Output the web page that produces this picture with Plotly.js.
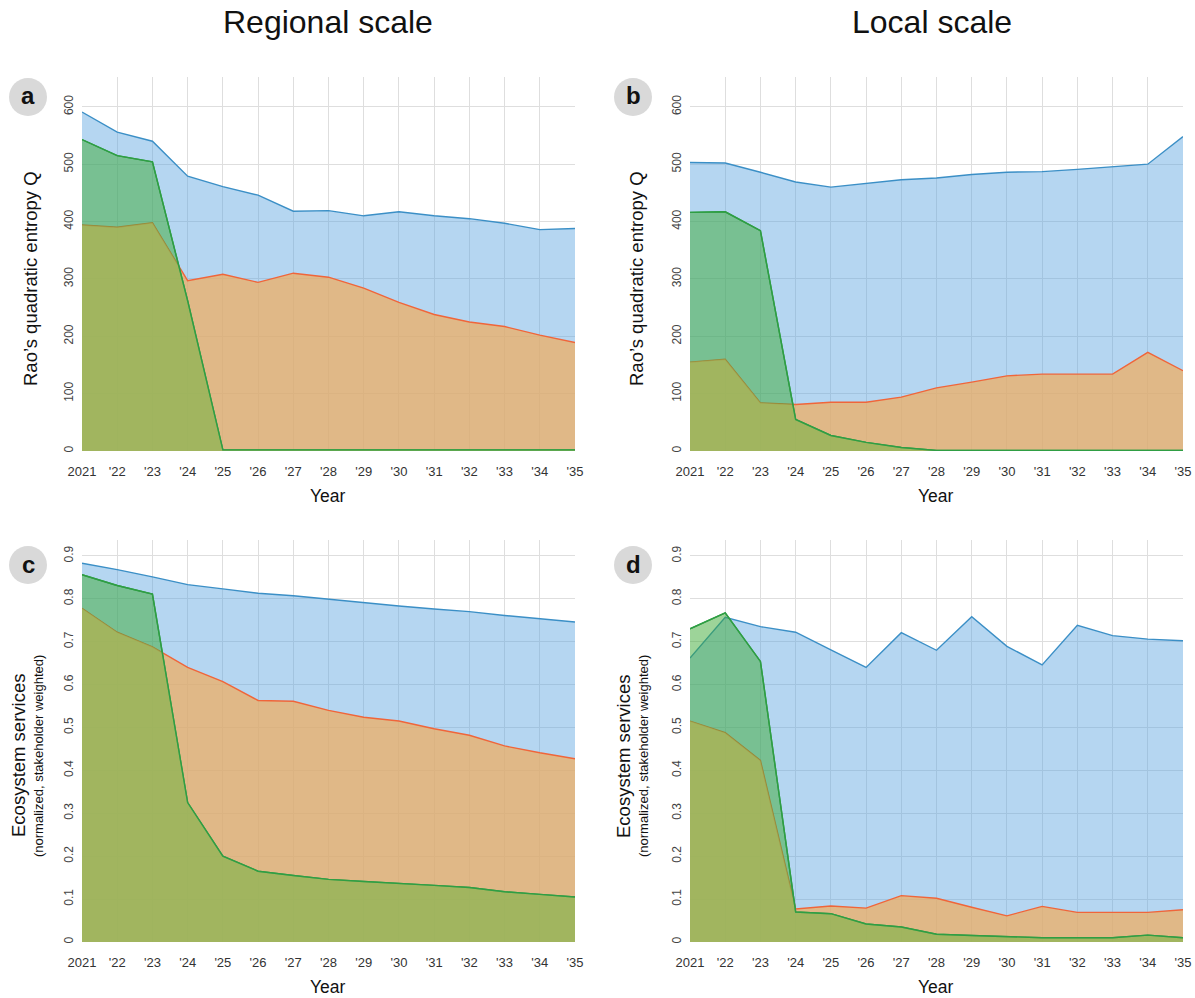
<!DOCTYPE html>
<html>
<head>
<meta charset="utf-8">
<script src="https://cdn.plot.ly/plotly-3.0.1.min.js"></script>
<style>html,body{margin:0;padding:0;background:#fff;}#chart{width:1195px;height:998px;}</style>
</head>
<body>
<div id="chart"></div>
<script>
// ---- data ----
const years = [2021,2022,2023,2024,2025,2026,2027,2028,2029,2030,2031,2032,2033,2034,2035];
const yearLabels = ['2021',"'22","'23","'24","'25","'26","'27","'28","'29","'30","'31","'32","'33","'34","'35"];

// Panel a: regional scale, Rao's Q
const regionalQBlue   = [591,556,540,479,461,446,418,419,410,417,410,405,397,386,388];
const regionalQOrange = [394,390,398,297,308,294,310,303,284,259,238,225,217,202,189];
const regionalQGreen  = [543,515,504,262,2,2,2,2,2,2,2,2,2,2,2];

// Panel b: local scale, Rao's Q
const localQBlue   = [503,502,486,469,460,467,473,476,482,486,487,491,496,500,548];
const localQOrange = [155,160,84,81,85,85,94,110,120,131,134,134,134,172,140];
const localQGreen  = [416,417,384,55,27,15,6,1,1,1,1,1,1,1,1];

// Panel c: regional scale, ecosystem services
const regionalESBlue   = [0.883,0.868,0.851,0.833,0.823,0.813,0.807,0.799,0.790,0.783,0.776,0.770,0.761,0.754,0.746];
const regionalESOrange = [0.778,0.722,0.688,0.640,0.607,0.563,0.561,0.540,0.524,0.515,0.497,0.482,0.457,0.441,0.427];
const regionalESGreen  = [0.856,0.831,0.811,0.325,0.200,0.165,0.155,0.146,0.141,0.137,0.132,0.127,0.117,0.111,0.105];

// Panel d: local scale, ecosystem services
const localESBlue   = [0.662,0.757,0.735,0.722,0.681,0.640,0.721,0.680,0.758,0.689,0.646,0.738,0.714,0.706,0.702];
const localESOrange = [0.515,0.488,0.423,0.077,0.084,0.079,0.108,0.102,0.081,0.061,0.083,0.069,0.069,0.069,0.075];
const localESGreen  = [0.730,0.767,0.654,0.070,0.066,0.042,0.035,0.018,0.015,0.012,0.010,0.010,0.010,0.016,0.010];

// ---- styles ----
const FONT = 'Liberation Sans, Arial, Helvetica, sans-serif';
const styles = {
  blue:   {line:'#3b8fc6', fill:'rgba(90,165,225,0.45)'},
  orange: {line:'#f0653a', fill:'rgba(241,172,94,0.72)'},
  green:  {line:'#2f9e44', fill:'rgba(60,170,52,0.5)'}
};
const overlapFill = 'rgba(180,186,97,0.5)';

function area(y, st, xa, ya) {
  return {x: years, y: y, type:'scatter', mode:'lines', fill:'tozeroy',
          fillcolor: styles[st].fill, line:{color: styles[st].line, width:1.4},
          xaxis: xa, yaxis: ya, hoverinfo:'skip', showlegend:false};
}
function lineOnly(y, st, xa, ya) {
  return {x: years, y: y, type:'scatter', mode:'lines',
          line:{color: styles[st].line, width:1.4},
          xaxis: xa, yaxis: ya, hoverinfo:'skip', showlegend:false};
}
// region shared by the green and orange areas (lower envelope of the two series)
function overlap(g, o, xa, ya) {
  const xs = [], ys = [];
  for (let i = 0; i < years.length; i++) {
    xs.push(years[i]); ys.push(Math.min(g[i], o[i]));
    if (i < years.length - 1) {
      const d0 = g[i] - o[i], d1 = g[i+1] - o[i+1];
      if (d0 * d1 < 0) {
        const t = d0 / (d0 - d1);
        xs.push(years[i] + t * (years[i+1] - years[i]));
        ys.push(g[i] + t * (g[i+1] - g[i]));
      }
    }
  }
  return {x: xs, y: ys, type:'scatter', mode:'none', fill:'tozeroy', fillcolor: overlapFill,
          xaxis: xa, yaxis: ya, hoverinfo:'skip', showlegend:false};
}
function panel(b, o, g, xa, ya) {
  return [area(b,'blue',xa,ya), area(o,'orange',xa,ya), area(g,'green',xa,ya),
          overlap(g,o,xa,ya), lineOnly(g,'green',xa,ya)];
}

const data = [].concat(
  panel(regionalQBlue, regionalQOrange, regionalQGreen, 'x', 'y'),
  panel(localQBlue, localQOrange, localQGreen, 'x2', 'y2'),
  panel(regionalESBlue, regionalESOrange, regionalESGreen, 'x3', 'y3'),
  panel(localESBlue, localESOrange, localESGreen, 'x4', 'y4')
);

const W = 1195, H = 998;
const px = v => v / W;
const py = v => 1 - v / H;

function xax(d0, d1, anchor) {
  return {domain:[px(d0), px(d1)], anchor: anchor, range:[2021,2035], tickvals: years, ticktext: yearLabels,
          showgrid:true, gridcolor:'#dedede', gridwidth:1, zeroline:false, showline:false,
          ticks:'outside', ticklen:8, tickcolor:'rgba(0,0,0,0)',
          tickfont:{family:FONT, size:13, color:'#333'}, fixedrange:true};
}
function yax(top, bottom, anchor, range, dtick) {
  return {domain:[py(bottom), py(top)], anchor: anchor, range: range, dtick: dtick, tick0:0,
          showgrid:true, gridcolor:'#dedede', gridwidth:1, zeroline:false, showline:false,
          ticks:'outside', ticklen:3, tickcolor:'rgba(0,0,0,0)', tickangle:-90,
          tickfont:{family:FONT, size:12, color:'#444'}, fixedrange:true};
}

const ann = [];
const shapes = [];
function txt(x, y, text, size, opts) {
  ann.push(Object.assign({xref:'paper', yref:'paper', x: px(x), y: py(y), text: text, showarrow:false,
           xanchor:'center', yanchor:'middle', font:{family:FONT, size:size, color:'#111'}}, opts || {}));
}
txt(328, 22, 'Regional scale', 32);
txt(932, 22, 'Local scale', 32);
txt(328, 496, 'Year', 17.5);
txt(936, 496, 'Year', 17.5);
txt(328, 987, 'Year', 17.5);
txt(936, 987, 'Year', 17.5);
txt(30, 279, 'Rao’s quadratic entropy Q', 18.5, {textangle:-90});
txt(636, 279, 'Rao’s quadratic entropy Q', 18.5, {textangle:-90});
txt(18, 756, 'Ecosystem services', 18.5, {textangle:-90});
txt(38, 756, '(normalized, stakeholder weighted)', 13, {textangle:-90});
txt(623, 756, 'Ecosystem services', 18.5, {textangle:-90});
txt(643, 756, '(normalized, stakeholder weighted)', 13, {textangle:-90});

[['a',28,97],['b',633,97],['c',28,565],['d',633,565]].forEach(([l,cx,cy]) => {
  shapes.push({type:'circle', xref:'paper', yref:'paper', xsizemode:'pixel', ysizemode:'pixel',
               xanchor: px(cx), yanchor: py(cy), x0:-19, x1:19, y0:-19, y1:19,
               fillcolor:'#d9d9d9', line:{width:0}, layer:'above'});
  txt(cx, cy-1, '<b>'+l+'</b>', 24, {font:{family:FONT, size:24, color:'#111'}});
});

const layout = {
  width: W, height: H, margin:{l:0, r:0, t:0, b:0}, paper_bgcolor:'#fff', plot_bgcolor:'#fff',
  showlegend:false,
  xaxis:  xax(82, 575, 'y'),
  xaxis2: xax(690, 1183, 'y2'),
  xaxis3: xax(82, 575, 'y3'),
  xaxis4: xax(690, 1183, 'y4'),
  yaxis:  yax(77, 451, 'x', [0, 652], 100),
  yaxis2: yax(77, 451, 'x2', [0, 652], 100),
  yaxis3: yax(540, 942, 'x3', [0, 0.937], 0.1),
  yaxis4: yax(540, 942, 'x4', [0, 0.937], 0.1),
  annotations: ann, shapes: shapes
};

Plotly.newPlot('chart', data, layout, {displayModeBar:false, staticPlot:true});
</script>
</body>
</html>
